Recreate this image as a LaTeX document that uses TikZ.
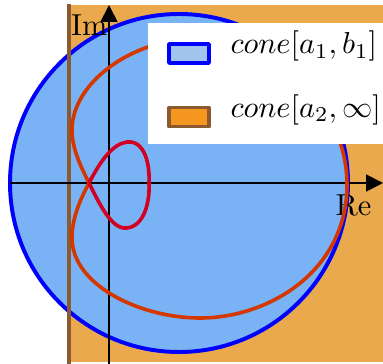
\documentclass[tikz,border=0pt]{standalone}
\usetikzlibrary{arrows.meta,positioning}
\definecolor{regionorange}{RGB}{233,169,76}
\definecolor{discblue}{RGB}{122,179,245}
\definecolor{keyblue}{RGB}{160,196,235}
\definecolor{keyorange}{RGB}{245,150,30}
\definecolor{conebrown}{RGB}{140,90,48}
\definecolor{curveorange}{RGB}{212,55,0}
\definecolor{loopred}{RGB}{210,0,35}
\tikzset{
  axisline/.style={line width=0.6pt, -{Triangle[length=5.6pt,width=5.6pt]}},
  axlabel/.style={inner sep=0pt},
  keybox/.style={minimum width=13.2pt, minimum height=6.3pt, inner sep=0pt, line width=1.2pt},
  keytext/.style={anchor=base west, inner sep=0pt}
}
\begin{document}
\begin{tikzpicture}[x=0.33pt, y=-0.33pt, line join=round]
  \useasboundingbox (0,0) rectangle (383,364);
  % half plane right of a2
  \fill[regionorange] (69,5) rectangle (383,362);
  % disc of cone[a1,b1]
  \filldraw[fill=discblue, draw=blue, line width=1.3pt] (179,183) circle[radius=169];
  % boundary line Re = a2
  \draw[conebrown, line width=1.4pt] (69,4) -- (69,364);
  % axes
  \coordinate (reL) at (10,183);
  \coordinate (reR) at (383,183);
  \coordinate (imB) at (109,364);
  \coordinate (imT) at (109,5);
  \draw[axisline] (reL) -- (reR);
  \draw[axisline] (imB) -- (imT);
  \node[axlabel, anchor=north west] (relabel) at (335,194) {Re};
  \node[axlabel, anchor=north east] (imlabel) at (108,14) {Im};
  % the curve, big part and small loop
  \draw[curveorange, line width=1.2pt] (89,183) .. controls (80,165) and (72,148) .. (72,130)
    .. controls (72,95) and (105,62) .. (148,47)
    .. controls (230,20) and (347,80) .. (347,185)
    .. controls (347,270) and (270,318) .. (200,318)
    .. controls (140,318) and (72,285) .. (72,238)
    .. controls (72,218) and (80,200) .. (89,183);
  \draw[loopred, line width=1.2pt] (89,183) .. controls (100,205) and (112,230) .. (127,228)
    .. controls (145,226) and (150,200) .. (149,183)
    .. controls (150,165) and (145,140) .. (127,142)
    .. controls (112,144) and (100,162) .. (89,183);
  % legend
  \fill[white] (148,23) rectangle (383,144);
  \node[keybox, draw=blue, fill=keyblue] (keyA) at (189,53.5) {};
  \node[keybox, draw=conebrown, fill=keyorange, below=13.5pt of keyA] (keyB) {};
  \node[keytext] (textA) at ([xshift=6.3pt]keyA.east) {$cone[a_1,b_1]$};
  \node[keytext] (textB) at ([xshift=6.3pt]keyB.east) {$cone[a_2,\infty]$};
\end{tikzpicture}
\end{document}
